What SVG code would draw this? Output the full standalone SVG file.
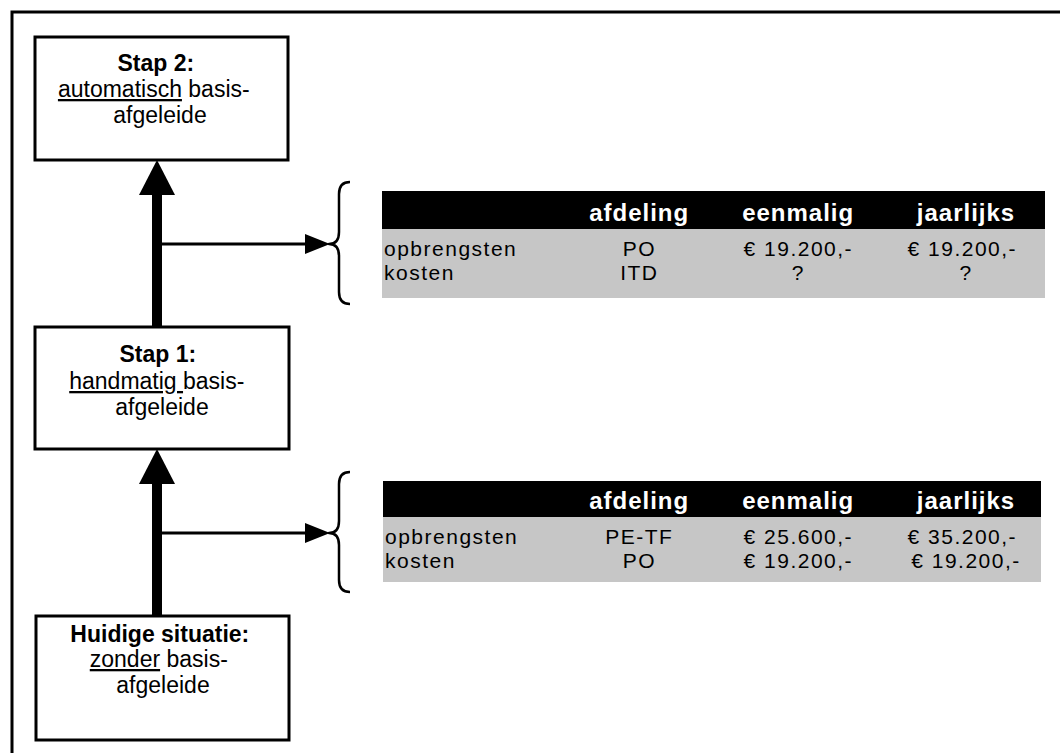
<svg xmlns="http://www.w3.org/2000/svg" width="1060" height="753" viewBox="0 0 1060 753">
  <style>
    .frame { fill: none; stroke: #000; stroke-width: 3; }
    .box { fill: #fff; stroke: #000; stroke-width: 3; }
    .txt { font-family: "Liberation Sans", Arial, sans-serif; font-size: 23px; fill: #000; }
    .b { font-weight: bold; }
    .u { text-decoration: underline; }
    .shaft { stroke: #000; stroke-width: 10; fill: none; }
    .link { stroke: #000; stroke-width: 3; fill: none; }
    .brace { stroke: #000; stroke-width: 2.5; fill: none; stroke-linejoin: round; }
    .hdr { fill: #000; }
    .row { fill: #c6c6c6; }
    .th { font-family: "Liberation Sans", Arial, sans-serif; font-size: 24px; font-weight: bold; letter-spacing: 1px; fill: #fff; }
    .td { font-family: "Liberation Sans", Arial, sans-serif; font-size: 21px; letter-spacing: 1.5px; fill: #000; }
  </style>
  <defs>
    <marker id="bigHead" markerUnits="userSpaceOnUse" markerWidth="36" markerHeight="36" refX="0" refY="18" orient="auto" viewBox="0 0 36 36">
      <path d="M0,0 L35,18 L0,36 z" fill="#000"/>
    </marker>
    <marker id="smallHead" markerUnits="userSpaceOnUse" markerWidth="26" markerHeight="22" refX="0" refY="11" orient="auto" viewBox="0 0 26 22">
      <path d="M0,1 L25,11 L0,21 z" fill="#000"/>
    </marker>
  </defs>

  <!-- outer frame (top and left edges) -->
  <path class="frame" d="M12,753 L12,12 L1060,12"/>

  <!-- connectors -->
  <g id="connectors">
    <line class="shaft" x1="157" y1="327" x2="157" y2="195" marker-end="url(#bigHead)"/>
    <line class="shaft" x1="157" y1="616" x2="157" y2="484" marker-end="url(#bigHead)"/>
    <line class="link" x1="162" y1="244" x2="305" y2="244" marker-end="url(#smallHead)"/>
    <line class="link" x1="162" y1="533" x2="305" y2="533" marker-end="url(#smallHead)"/>
    <path class="brace" d="M350,182 Q339,182 339,194 L339,232 Q339,244 329,244 Q339,244 339,256 L339,292 Q339,304 350,304"/>
    <path class="brace" d="M350,472 Q339,472 339,484 L339,521 Q339,533 329,533 Q339,533 339,545 L339,580 Q339,592 350,592"/>
  </g>

  <!-- step boxes -->
  <g id="stap2">
    <rect class="box" x="35" y="37" width="253" height="123"/>
    <text class="txt" text-anchor="middle">
      <tspan class="b" x="159" y="71">Stap 2:</tspan>
      <tspan x="157" y="97"><tspan class="u">automatisch</tspan> basis-</tspan>
      <tspan x="160" y="123">afgeleide</tspan>
    </text>
  </g>
  <g id="stap1">
    <rect class="box" x="35" y="327" width="254" height="122"/>
    <text class="txt" text-anchor="middle">
      <tspan class="b" x="161" y="362">Stap 1:</tspan>
      <tspan x="160" y="389"><tspan class="u">handmatig&#160;</tspan>basis-</tspan>
      <tspan x="162" y="415">afgeleide</tspan>
    </text>
  </g>
  <g id="huidig">
    <rect class="box" x="36" y="616" width="253" height="124"/>
    <text class="txt" text-anchor="middle">
      <tspan class="b" x="163" y="642">Huidige situatie:</tspan>
      <tspan x="162" y="667"><tspan class="u">zonder</tspan> basis-</tspan>
      <tspan x="163" y="693">afgeleide</tspan>
    </text>
  </g>

  <!-- table for step 2 -->
  <g id="tabel2">
    <rect class="row" x="382" y="229" width="663" height="69"/>
    <rect class="hdr" x="382" y="191" width="663" height="38"/>
    <text class="th" text-anchor="middle">
      <tspan x="643" y="221">afdeling</tspan>
      <tspan x="802" y="221">eenmalig</tspan>
      <tspan x="966" y="221">jaarlijks</tspan>
    </text>
    <text class="td"><tspan x="384" y="256">opbrengsten</tspan><tspan x="384" y="280">kosten</tspan></text>
    <text class="td" text-anchor="middle">
      <tspan x="643" y="256">PO</tspan>
      <tspan x="643" y="280">ITD</tspan>
      <tspan x="802" y="256">€ 19.200,-</tspan>
      <tspan x="802" y="280">?</tspan>
      <tspan x="966" y="256">€ 19.200,-</tspan>
      <tspan x="966" y="280">?</tspan>
    </text>
  </g>

  <!-- table for step 1 -->
  <g id="tabel1">
    <rect class="row" x="383" y="517" width="658" height="65"/>
    <rect class="hdr" x="383" y="481" width="658" height="36"/>
    <text class="th" text-anchor="middle">
      <tspan x="643" y="509">afdeling</tspan>
      <tspan x="802" y="509">eenmalig</tspan>
      <tspan x="966" y="509">jaarlijks</tspan>
    </text>
    <text class="td"><tspan x="385" y="544">opbrengsten</tspan><tspan x="385" y="568">kosten</tspan></text>
    <text class="td" text-anchor="middle">
      <tspan x="643" y="544">PE-TF</tspan>
      <tspan x="643" y="568">PO</tspan>
      <tspan x="802" y="544">€ 25.600,-</tspan>
      <tspan x="802" y="568">€ 19.200,-</tspan>
      <tspan x="966" y="544">€ 35.200,-</tspan>
      <tspan x="966" y="568">€ 19.200,-</tspan>
    </text>
  </g>
</svg>
